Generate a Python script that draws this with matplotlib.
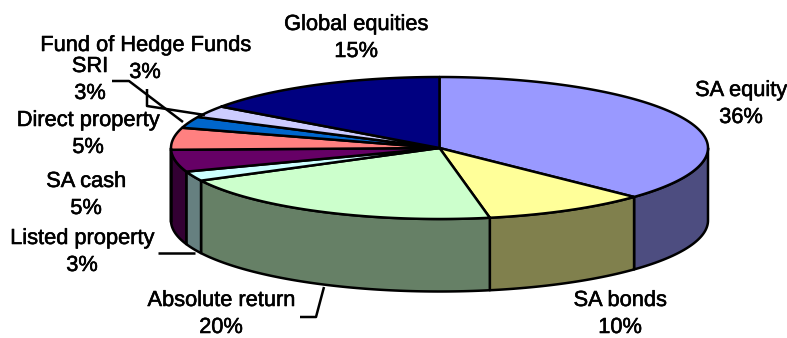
import numpy as np
import matplotlib
matplotlib.use("Agg")
import matplotlib.pyplot as plt
import matplotlib.patheffects as pe
from matplotlib.patches import Polygon

# ---------------- Data ----------------
categories = ["SA equity", "SA bonds", "Absolute return", "Listed property", "SA cash",
              "Direct property", "SRI", "Fund of Hedge Funds", "Global equities"]
labelled_pct = [36, 10, 20, 3, 5, 5, 3, 3, 15]
# slice sizes as drawn, 3D view makes them differ a bit from the printed numbers
drawn_share = [37.1, 9.9, 20.4, 2.2, 5.0, 5.0, 2.6, 2.7, 15.1]

top_colors = ["#9999FF", "#FFFF99", "#CCFFCC", "#CCFFFF", "#660066",
              "#FF8080", "#0066CC", "#CCCCFF", "#000080"]
side_colors = ["#4D4D80", "#80804D", "#668066", "#668080", "#330033",
               "#804040", "#003366", "#666680", "#000040"]

# ---------------- Layout (pixels) ----------------
CX, CY = 439.5, 148
RX, RY = 268.5, 71
DEPTH = 72.5
LW = 1.8

# x centre and baseline of the name line, the percent line sits 27 px lower
label_pos = [(741, 96), (620, 306), (221, 306), (82, 244), (86, 187),
             (88, 126), (90, 72), (145, 51), (356, 30)]
LINE_GAP = 27
leaders = [
    [(112, 81), (129, 81), (183, 122)],
    [(147, 89), (147, 106), (205, 115)],
    [(158, 253), (195, 253)],
    [(300, 317), (316, 317), (324, 287)],
]


def rim(angles):
    # angle is clockwise from the top of the ellipse
    a = np.radians(angles)
    return CX + RX * np.sin(a), CY - RY * np.cos(a)


fig = plt.figure(figsize=(7.87, 3.38), dpi=100)
ax = fig.add_axes([0, 0, 1, 1])
ax.set_xlim(0, 787)
ax.set_ylim(338, 0)
ax.axis("off")

edges = np.concatenate([[0], np.cumsum(drawn_share)]) / sum(drawn_share) * 360

# side walls, only the front half of the rim shows
for i in range(len(categories)):
    a0, a1 = max(edges[i], 90), min(edges[i + 1], 270)
    if a1 <= a0:
        continue
    x, y = rim(np.linspace(a0, a1, 80))
    pts = np.column_stack([np.r_[x, x[::-1]], np.r_[y, y[::-1] + DEPTH]])
    ax.add_patch(Polygon(pts, closed=True, facecolor=side_colors[i], edgecolor="black",
                         linewidth=LW, joinstyle="round"))

# top face
for i in range(len(categories)):
    x, y = rim(np.linspace(edges[i], edges[i + 1], 120))
    pts = np.column_stack([np.r_[CX, x], np.r_[CY, y]])
    ax.add_patch(Polygon(pts, closed=True, facecolor=top_colors[i], edgecolor="black",
                         linewidth=LW, joinstyle="round"))

for line in leaders:
    xs, ys = zip(*line)
    ax.plot(xs, ys, color="black", linewidth=LW, solid_capstyle="butt")

# thin stroke because the reference text looks heavier than plain Arial
stroke = [pe.withStroke(linewidth=0.4, foreground="black")]
text_style = dict(ha="center", va="baseline", fontsize=15.7, family="Liberation Sans",
                  color="black", path_effects=stroke)
for name, pct, (tx, ty) in zip(categories, labelled_pct, label_pos):
    ax.text(tx, ty, name, **text_style)
    ax.text(tx, ty + LINE_GAP, f"{pct}%", **text_style)

fig.savefig("out.png", dpi=100)
